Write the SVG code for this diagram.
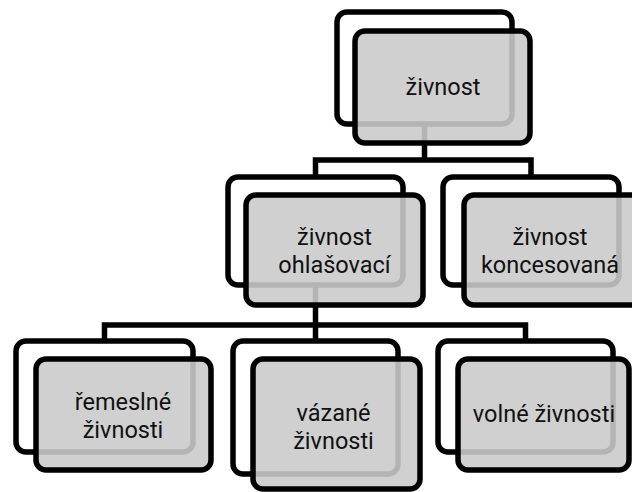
<svg xmlns="http://www.w3.org/2000/svg" width="632" height="492" viewBox="0 0 632 492">
<style>
.back{fill:#ffffff;stroke:#000000;stroke-width:5.5}
.front{fill:rgb(202,202,202);fill-opacity:0.89;stroke:#000000;stroke-width:5.5}
.conn{fill:none;stroke:#000000;stroke-width:5.5;stroke-linejoin:miter}
text{font-family:Roboto,"Open Sans","Liberation Sans",sans-serif;font-size:23.5px;fill:#111111;text-anchor:middle}
</style>
<rect width="632" height="492" fill="#ffffff"/>
<g id="connectors">
<path class="conn" d="M424.5 124 V160"/>
<path class="conn" d="M315.5 177 V160 H531 V177"/>
<path class="conn" d="M315.5 285 V325"/>
<path class="conn" d="M104.5 341 V325 H525.5 V341"/>
<path class="conn" d="M315.5 325 V341"/>
</g>
<g id="zivnost">
<rect class="back" x="337" y="12" width="175" height="112" rx="10"/>
<rect class="front" x="355" y="31" width="175" height="112" rx="10"/>
<text x="443" y="95">živnost</text>
</g>
<g id="ohlasovaci">
<rect class="back" x="228" y="177" width="175" height="108" rx="10"/>
<rect class="front" x="246" y="195" width="177" height="110" rx="10"/>
<text x="334.5" y="244.5">živnost</text>
<text x="334.5" y="272.5">ohlašovací</text>
</g>
<g id="koncesovana">
<rect class="back" x="443" y="177" width="176" height="108" rx="10"/>
<rect class="front" x="464" y="195" width="177" height="110" rx="10"/>
<text x="550" y="244.5">živnost</text>
<text x="550" y="272.5">koncesovaná</text>
</g>
<g id="remeslne">
<rect class="back" x="16" y="341" width="177" height="111" rx="10"/>
<rect class="front" x="36" y="359" width="175" height="111" rx="10"/>
<text x="123" y="409.5">řemeslné</text>
<text x="123" y="437.5">živnosti</text>
</g>
<g id="vazane">
<rect class="back" x="233" y="341" width="165" height="133" rx="10"/>
<rect class="front" x="253" y="359" width="167" height="130" rx="10"/>
<text x="333.5" y="420.5">vázané</text>
<text x="333.5" y="448.5">živnosti</text>
</g>
<g id="volne">
<rect class="back" x="438" y="341" width="175" height="111" rx="10"/>
<rect class="front" x="458" y="359" width="171" height="111" rx="10"/>
<text x="544" y="421.5">volné živnosti</text>
</g>
</svg>
